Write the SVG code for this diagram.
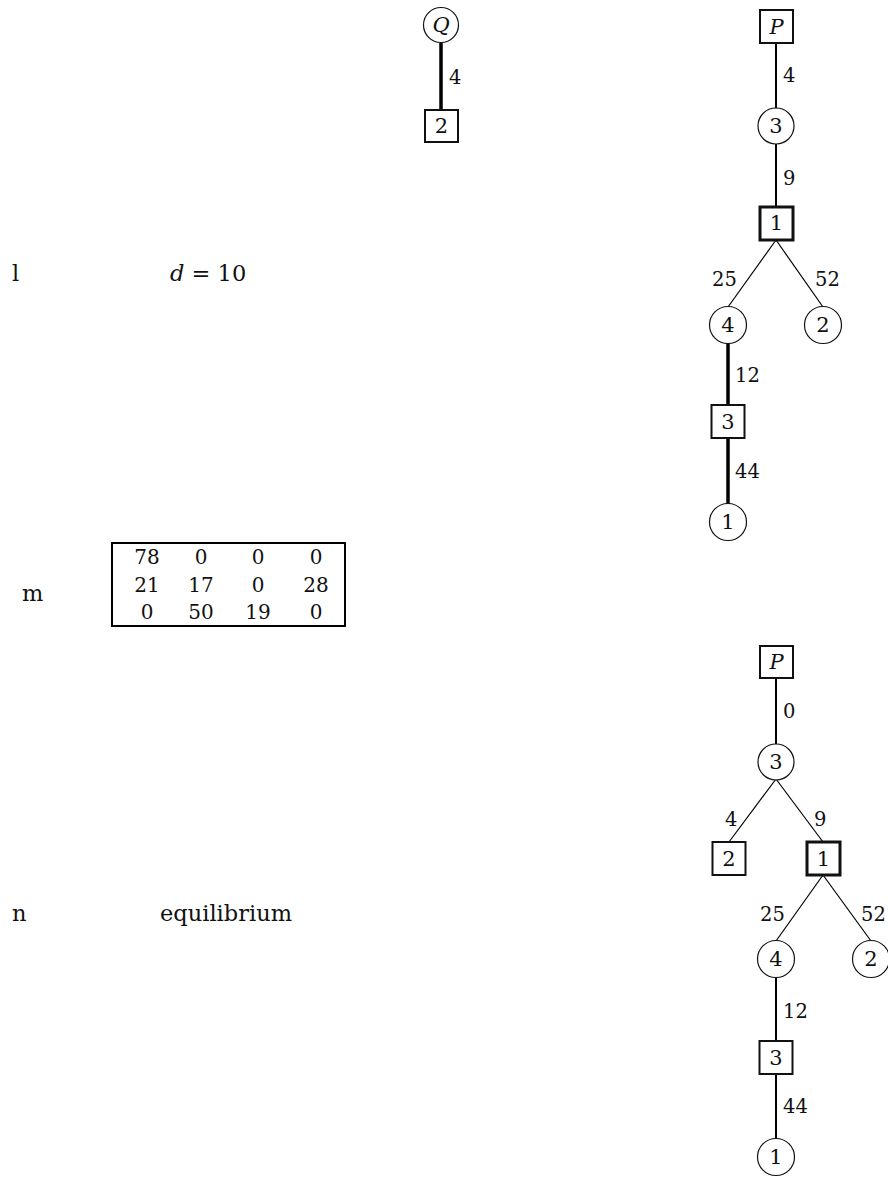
<svg xmlns="http://www.w3.org/2000/svg" width="888" height="1177" viewBox="0 0 888 1177">
<style>
text{font-family:"DejaVu Serif","Liberation Serif",serif;fill:#111;}
.n{font-size:21px;text-anchor:middle;dominant-baseline:central;}
.e{font-size:19.5px;}
.t{font-size:22.5px;}
.m{font-size:20px;text-anchor:middle;}
.it{font-style:italic;}
circle{fill:#fff;stroke:#111;stroke-width:1.2;}
rect.b{fill:#fff;stroke:#111;stroke-width:2;}
rect.bb{fill:#fff;stroke:#111;stroke-width:3;}
.th{stroke:#000;stroke-width:3.5;}
.md{stroke:#000;stroke-width:2;}
.tn{stroke:#000;stroke-width:1.2;}
</style>
<rect width="888" height="1177" fill="#fff"/>
<g id="connectors">
<line class="th" x1="441" y1="43" x2="441" y2="110"/>
<line class="md" x1="776" y1="43" x2="776" y2="109"/>
<line class="md" x1="776" y1="144" x2="776" y2="207"/>
<line class="tn" x1="776" y1="240" x2="728" y2="307"/>
<line class="tn" x1="776" y1="240" x2="823" y2="307"/>
<line class="th" x1="728" y1="343" x2="728" y2="405"/>
<line class="th" x1="728" y1="438" x2="728" y2="504"/>
<line class="md" x1="776" y1="678" x2="776" y2="744"/>
<line class="tn" x1="776" y1="779" x2="729" y2="842"/>
<line class="tn" x1="776" y1="779" x2="823" y2="842"/>
<line class="tn" x1="823" y1="875" x2="776" y2="941"/>
<line class="tn" x1="823" y1="875" x2="871" y2="941"/>
<line class="md" x1="776" y1="977" x2="776" y2="1041"/>
<line class="md" x1="776" y1="1074" x2="776" y2="1139"/>
</g>
<g id="edge-labels">
<text class="e" x="449" y="84">4</text>
<text class="e" x="783" y="82">4</text>
<text class="e" x="783" y="185">9</text>
<text class="e" x="712" y="286">25</text>
<text class="e" x="815" y="286">52</text>
<text class="e" x="735" y="382">12</text>
<text class="e" x="735" y="478">44</text>
<text class="e" x="783" y="718">0</text>
<text class="e" x="725" y="826">4</text>
<text class="e" x="814" y="826">9</text>
<text class="e" x="760" y="921">25</text>
<text class="e" x="861" y="921">52</text>
<text class="e" x="783" y="1018">12</text>
<text class="e" x="783" y="1113">44</text>
</g>
<g id="node-Q"><circle cx="441" cy="25" r="17.5"/><text class="n it" x="441" y="25">Q</text></g>
<g id="node-Q2"><rect class="b" x="425" y="110" width="33" height="32"/><text class="n" x="441.5" y="126">2</text></g>
<g id="node-P1"><rect class="b" x="760" y="10" width="33" height="33"/><text class="n it" x="776.5" y="27">P</text></g>
<g id="node-t1-c3"><circle cx="776" cy="126" r="18"/><text class="n" x="776" y="126">3</text></g>
<g id="node-t1-b1"><rect class="bb" x="760" y="207" width="33" height="33"/><text class="n" x="776.5" y="223">1</text></g>
<g id="node-t1-c4"><circle cx="728" cy="325" r="18.5"/><text class="n" x="728" y="325">4</text></g>
<g id="node-t1-c2"><circle cx="823" cy="325" r="18.5"/><text class="n" x="823" y="325">2</text></g>
<g id="node-t1-b3"><rect class="b" x="711.5" y="405" width="33" height="33"/><text class="n" x="728" y="421.5">3</text></g>
<g id="node-t1-c1"><circle cx="728" cy="522" r="18.5"/><text class="n" x="728" y="522">1</text></g>
<g id="node-P2"><rect class="b" x="760" y="646" width="33" height="32"/><text class="n it" x="776.5" y="662">P</text></g>
<g id="node-t2-c3"><circle cx="776" cy="762" r="18"/><text class="n" x="776" y="762">3</text></g>
<g id="node-t2-b2"><rect class="b" x="712.5" y="842" width="33" height="33"/><text class="n" x="729" y="858.5">2</text></g>
<g id="node-t2-b1"><rect class="bb" x="807" y="842" width="33" height="33"/><text class="n" x="823.5" y="858.5">1</text></g>
<g id="node-t2-c4"><circle cx="776" cy="959" r="18.5"/><text class="n" x="776" y="959">4</text></g>
<g id="node-t2-c2"><circle cx="871" cy="959" r="18.5"/><text class="n" x="871" y="959">2</text></g>
<g id="node-t2-b3"><rect class="b" x="759.5" y="1041" width="33" height="33"/><text class="n" x="776" y="1057.5">3</text></g>
<g id="node-t2-c1"><circle cx="776" cy="1157" r="18.5"/><text class="n" x="776" y="1157">1</text></g>
<g id="labels">
<text class="t" x="12" y="281">l</text>
<text class="t" x="170" y="281"><tspan class="it">d</tspan> = 10</text>
<text class="t" x="22" y="601">m</text>
<text class="t" x="12" y="921">n</text>
<text class="t" x="160" y="921">equilibrium</text>
</g>
<g id="matrix">
<rect x="112" y="543" width="233" height="83" fill="none" stroke="#000" stroke-width="2"/>
<text class="m" x="147" y="564">78</text><text class="m" x="201" y="564">0</text><text class="m" x="258" y="564">0</text><text class="m" x="316" y="564">0</text>
<text class="m" x="147" y="592">21</text><text class="m" x="201" y="592">17</text><text class="m" x="258" y="592">0</text><text class="m" x="316" y="592">28</text>
<text class="m" x="147" y="619">0</text><text class="m" x="201" y="619">50</text><text class="m" x="258" y="619">19</text><text class="m" x="316" y="619">0</text>
</g>
</svg>
